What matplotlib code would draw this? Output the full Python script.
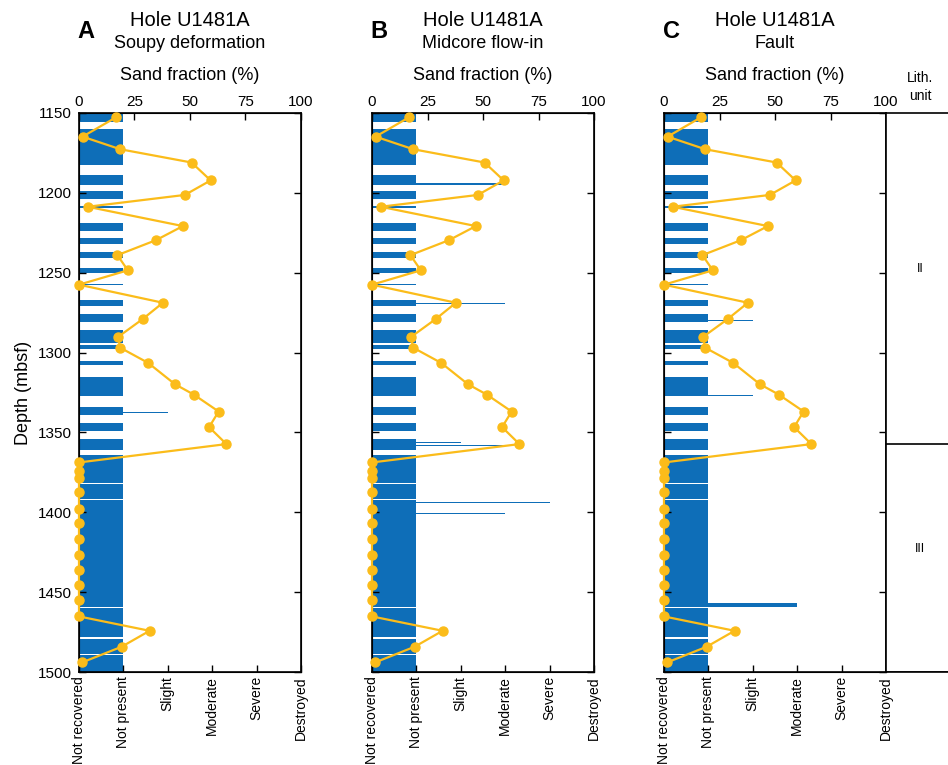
import matplotlib.pyplot as plt

plt.rcParams['font.family'] = ['Liberation Sans', 'DejaVu Sans']

# Sand fraction (%) vs depth (mbsf), same in all panels
sand_depth = [1152.7, 1164.8, 1172.7, 1181.0, 1192.2, 1201.3, 1208.7, 1220.8, 1229.6, 1239.0,
              1248.5, 1257.5, 1268.8, 1279.0, 1290.2, 1296.9, 1306.5, 1319.8, 1326.3, 1336.9,
              1346.7, 1357.3, 1368.8, 1374.4, 1378.8, 1387.3, 1397.9, 1406.9, 1417.0, 1426.6,
              1436.3, 1445.8, 1455.2, 1465.2, 1474.2, 1484.2, 1494.0]
sand_pct = [16.7, 1.6, 18.6, 50.7, 59.3, 47.7, 3.9, 46.8, 34.7, 17.3,
            22.0, 0.0, 37.8, 28.7, 17.6, 18.5, 31.2, 43.2, 51.7, 62.9,
            58.6, 66.4, 0.0, 0.0, 0.0, 0.0, 0.0, 0.0, 0.0, 0.0,
            0.0, 0.0, 0.0, 0.0, 31.8, 19.2, 1.4]

# recovered intervals with deformation "Not present" (intensity 1)
np_top = [1150.0, 1160.0, 1189.0, 1199.0, 1208.2, 1219.0, 1228.0, 1237.0, 1247.0, 1256.8,
          1267.0, 1276.0, 1286.0, 1295.0, 1305.0, 1315.0, 1334.0, 1344.0, 1354.0, 1364.0,
          1382.2, 1392.2, 1460.2, 1479.2, 1489.2]
np_base = [1155.6, 1182.5, 1195.0, 1204.0, 1209.6, 1224.0, 1232.0, 1241.0, 1250.0, 1257.6,
           1271.0, 1281.0, 1294.0, 1298.0, 1308.0, 1327.0, 1339.0, 1349.0, 1361.0, 1381.6,
           1391.6, 1459.6, 1477.8, 1488.6, 1500.0]

# intensity: 0 Not recovered, 1 Not present, 2 Slight, 3 Moderate, 4 Severe, 5 Destroyed
intensity_labels = ['Not recovered', 'Not present', 'Slight', 'Moderate', 'Severe', 'Destroyed']

panels = ['A', 'B', 'C']
subtitles = ['Soupy deformation', 'Midcore flow-in', 'Fault']
extra_top = [[1337.2], [1194.1, 1268.7, 1355.7, 1357.7, 1393.7, 1400.3], [1279.3, 1326.7, 1457.0]]
extra_base = [[1337.9], [1194.8, 1269.4, 1356.4, 1358.4, 1394.4, 1401.0], [1280.0, 1327.4, 1459.2]]
extra_val = [[2], [3, 3, 2, 3, 4, 3], [2, 2, 3]]

# lithologic units
unit_names = ['II', 'III']
unit_top = [1150, 1357.5]
unit_base = [1357.5, 1500]

blue = '#0e6eb8'
gold = '#fbbc1a'

W, H = 948, 765
fig = plt.figure(figsize=(W / 100, H / 100), dpi=100)


def fx(x):
    return x / W


def fy(y):
    return 1 - y / H


lefts = [79, 372, 664]
aw = 222
top_px, bot_px = 113, 672

for k in range(3):
    ax = fig.add_axes([fx(lefts[k]), fy(bot_px), aw / W, (bot_px - top_px) / H])
    tops = np_top + extra_top[k]
    bases = np_base + extra_base[k]
    vals = [1] * len(np_top) + extra_val[k]
    centers = [(t + b) / 2 for t, b in zip(tops, bases)]
    heights = [b - t for t, b in zip(tops, bases)]
    ax.barh(centers, vals, height=heights, color=blue, linewidth=0, align='center')
    ax.set_xlim(0, 5)
    ax.set_ylim(1500, 1150)
    ax.set_xticks(range(6))
    ax.set_xticklabels(intensity_labels, rotation=90, fontsize=10)
    ax.set_yticks(range(1150, 1501, 50))
    ax.tick_params(axis='both', direction='in', length=5, width=1, right=True, pad=3)
    ax.tick_params(axis='y', labelsize=11, pad=5)
    if k > 0:
        ax.set_yticklabels([])
    else:
        ax.set_ylabel('Depth (mbsf)', fontsize=13, labelpad=4)
    for s in ax.spines.values():
        s.set_linewidth(1.2)

    ax2 = ax.twiny()
    ax2.plot(sand_pct, sand_depth, '-o', color=gold, lw=1.6, ms=6.5, clip_on=False, zorder=5)
    ax2.set_xlim(0, 100)
    ax2.set_xticks([0, 25, 50, 75, 100])
    ax2.tick_params(axis='x', direction='in', length=5, width=1, labelsize=11, pad=3)

    cx = lefts[k] + aw / 2
    fig.text(fx(lefts[k] + 7), fy(31), panels[k], fontsize=17, fontweight='bold',
             ha='center', va='center')
    fig.text(fx(cx), fy(21), 'Hole U1481A', fontsize=14.5, ha='center', va='center')
    fig.text(fx(cx), fy(44), subtitles[k], fontsize=13, ha='center', va='center')
    fig.text(fx(cx), fy(75), 'Sand fraction (%)', fontsize=13, ha='center', va='center')

# lithologic unit column
axl = fig.add_axes([fx(886), fy(bot_px), 80 / W, (bot_px - top_px) / H])
axl.set_ylim(1500, 1150)
axl.set_xlim(0, 1)
axl.set_xticks([])
axl.set_yticks([])
axl.spines['right'].set_visible(False)
for s in axl.spines.values():
    s.set_linewidth(1.2)
for name, t, b in zip(unit_names, unit_top, unit_base):
    axl.axhline(b, color='k', lw=1.2)
    axl.text(0.43, (t + b) / 2 - 6, name, ha='center', va='center', fontsize=9)
fig.text(fx(920), fy(87), 'Lith.\nunit', fontsize=10, ha='center', va='center', linespacing=1.35)

fig.savefig('out.png', dpi=100)
